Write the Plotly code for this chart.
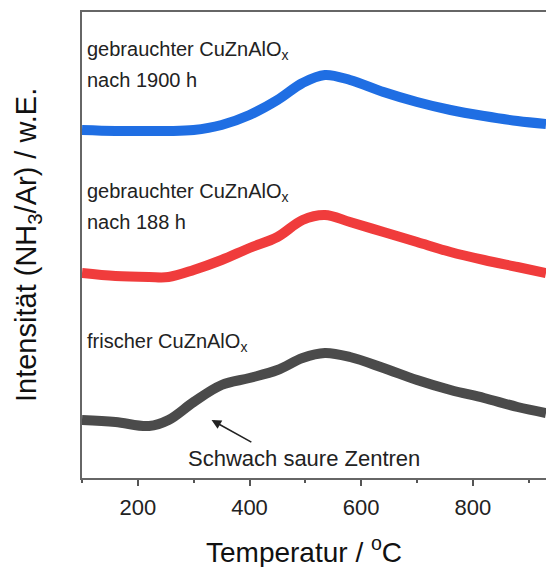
import plotly.graph_objects as go

# Temperature grid (°C)
temperatur = [100, 160, 220, 255, 300, 350, 400, 450, 495, 535, 580, 640, 700,
              760, 820, 880, 931]

# Intensities (arbitrary units, offset per curve)
blau_1900h = [348, 347, 347, 347, 348, 353, 363, 378, 395, 403, 398, 386, 376,
              368, 362, 357, 354]
rot_188h = [205, 202, 201, 201, 208, 218, 230, 241, 258, 263, 256, 246, 236,
            226, 218, 211, 205]
grau_frisch = [58, 56, 52, 58, 76, 93, 100, 108, 120, 125, 121, 110, 98,
               88, 80, 71, 65]

x_ticks = [200, 400, 600, 800]
font = "Liberation Sans, Arial, sans-serif"

fig = go.Figure()
for yv, col in [(grau_frisch, "#4b4b4b"), (rot_188h, "#f03c3c"), (blau_1900h, "#1f6ee3")]:
    fig.add_trace(go.Scatter(x=temperatur, y=yv, mode="lines",
                             line=dict(color=col, width=10, shape="spline", smoothing=1.0),
                             showlegend=False, hoverinfo="skip"))

ann_font = dict(family=font, size=20, color="#222")
labels = [
    ("gebrauchter CuZnAlO<sub>x</sub>", 428),
    ("nach 1900 h", 398),
    ("gebrauchter CuZnAlO<sub>x</sub>", 286),
    ("nach 188 h", 256),
    ("frischer CuZnAlO<sub>x</sub>", 136),
]
annotations = []
for txt, y in labels:
    annotations.append(dict(x=106, y=y, xref="x", yref="y", text=txt, showarrow=False,
                            xanchor="left", yanchor="middle", font=ann_font))
annotations.append(dict(x=497, y=20, xref="x", yref="y", text="Schwach saure Zentren",
                        showarrow=False, xanchor="center", yanchor="middle",
                        font=dict(family=font, size=22, color="#222")))
annotations.append(dict(x=332, y=58, xref="x", yref="y", ax=406, ay=35, axref="x", ayref="y",
                        text="", showarrow=True, arrowhead=2, arrowsize=1.2, arrowwidth=1.6,
                        arrowcolor="#222"))
annotations.append(dict(x=-54/464, y=0.5, xref="paper", yref="paper",
                        text="Intensität (NH<sub>3</sub>/Ar) / w.E.", textangle=-90,
                        showarrow=False, xanchor="center", yanchor="middle",
                        font=dict(family=font, size=29, color="#111")))
annotations.append(dict(x=(304-82)/464, y=-(550-478)/466, xref="paper", yref="paper",
                        text="Temperatur / <sup>o</sup>C",
                        showarrow=False, xanchor="center", yanchor="middle",
                        font=dict(family=font, size=28, color="#111")))

fig.update_layout(
    width=546, height=567,
    margin=dict(l=82, r=0, t=12, b=89),
    plot_bgcolor="white", paper_bgcolor="white",
    annotations=annotations,
    xaxis=dict(range=[100, 931], tickvals=x_ticks, ticks="outside", ticklen=6, tickwidth=1.5,
               tickcolor="#555", showline=True, linecolor="#666", linewidth=1.5, mirror=True,
               showgrid=False, zeroline=False, ticklabelstandoff=3,
               tickfont=dict(family=font, size=22, color="#222"),
               minor=dict(tickvals=[100, 300, 500, 700, 900], ticks="outside", ticklen=3,
                          tickwidth=1.5, tickcolor="#555", showgrid=False)),
    yaxis=dict(range=[0, 466], showticklabels=False, ticks="", showline=True,
               linecolor="#666", linewidth=1.5, showgrid=False, zeroline=False),
)

fig.write_html("out.html")
